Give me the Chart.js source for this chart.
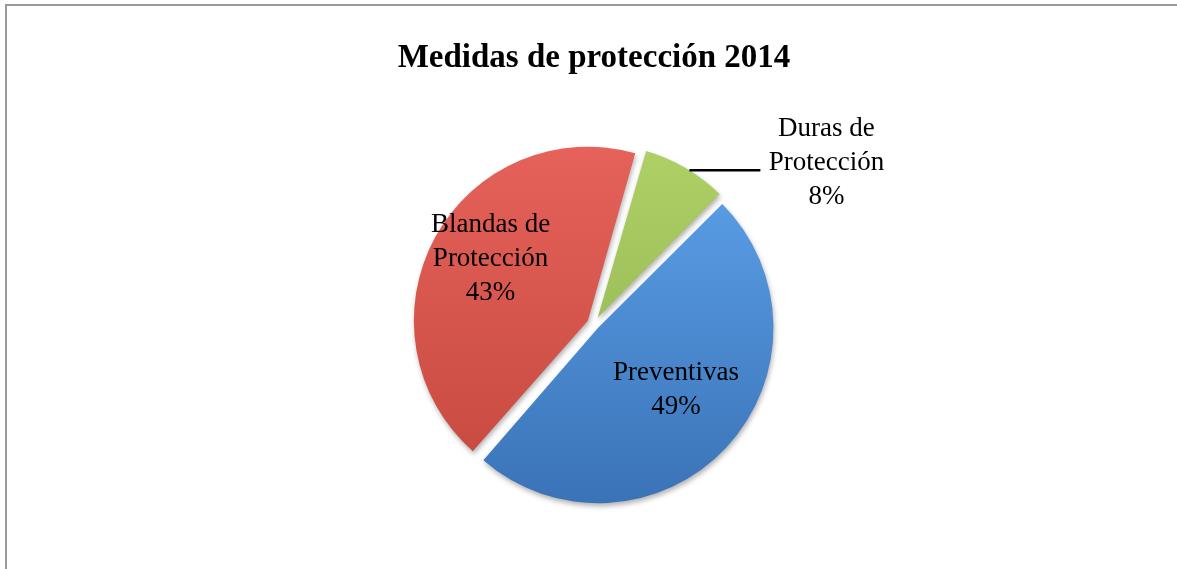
<!DOCTYPE html>
<html>
<head>
<meta charset="utf-8">
<script src="https://cdn.jsdelivr.net/npm/chart.js@4.4.1/dist/chart.umd.min.js"></script>
<style>
  html, body { margin: 0; padding: 0; background: #fff; overflow: hidden; }
  #frame { position: relative; width: 1177px; height: 569px; overflow: hidden; }
  #edge {
    position: absolute; left: 5px; top: 4px; right: -20px; bottom: -20px;
    border-left: 2px solid #9a9a9a; border-top: 2px solid #9a9a9a;
  }
  #pie { position: absolute; left: 0; top: 0; }
</style>
</head>
<body>
<div id="frame">
  <div id="edge"></div>
  <canvas id="pie" width="1177" height="600"></canvas>
</div>
<script>
// Data, in drawing order (clockwise from the top)
const categories = ['Duras de\nProtección', 'Preventivas', 'Blandas de\nProtección'];
const shares = [8, 49, 43];

// Fill colours per slice (light top, dark bottom)
const sliceLight = ['#b0d168', '#5ea3ec', '#e6625a'];
const sliceDark = ['#8caf48', '#3a72b6', '#c4483f'];

// Explode distance per slice (Chart.js scales this down inside the arc)
const sliceOffsets = [29, 22.7, 27.9];

// Where each label goes, relative to its own slice
const labelPlacement = [
  { radius: 1.0, turn: 1.5, leader: 71, gap: 66, lift: -7 },
  { radius: 0.555, turn: -4.7 },
  { radius: 0.654, turn: 3.9 }
];

const FONT_FAMILY = '"Liberation Serif", "Times New Roman", serif';

function sliceFill(context) {
  const { chart, dataIndex } = context;
  const area = chart.chartArea;
  if (!area) return sliceLight[dataIndex];
  const cy = (area.top + area.bottom) / 2;
  const g = chart.ctx.createLinearGradient(0, cy - 180, 0, cy + 180);
  g.addColorStop(0, sliceLight[dataIndex]);
  g.addColorStop(1, sliceDark[dataIndex]);
  return g;
}

// same shift ArcElement.draw applies for options.offset
function explodeShift(arc) {
  const base = (arc.options.offset || 0) / 4;
  const circ = arc.endAngle - arc.startAngle;
  const fix = 1 - Math.sin(Math.min(Math.PI, circ));
  return base * (1 + fix);
}

// ── Plugins ─────────────────────────────────────────────────────────────

const softShadow = {
  id: 'softShadow',
  beforeDatasetDraw(chart) {
    const c = chart.ctx;
    c.save();
    c.shadowColor = 'rgba(0,0,0,0.3)';
    c.shadowBlur = 5;
    c.shadowOffsetX = 1;
    c.shadowOffsetY = 3;
  },
  afterDatasetDraw(chart) {
    chart.ctx.restore();
  }
};

const sliceLabels = {
  id: 'sliceLabels',
  afterDatasetsDraw(chart) {
    const ctx = chart.ctx;
    const meta = chart.getDatasetMeta(0);
    const lineH = 34;
    ctx.save();
    ctx.font = '27px ' + FONT_FAMILY;
    ctx.fillStyle = '#000';
    ctx.textAlign = 'center';
    ctx.textBaseline = 'middle';

    meta.data.forEach((arc, i) => {
      const p = labelPlacement[i];
      const { x, y, startAngle, endAngle, outerRadius } = arc;
      const off = explodeShift(arc);
      const mid = (startAngle + endAngle) / 2;
      const cx = x + Math.cos(mid) * off;
      const cy = y + Math.sin(mid) * off;
      const a = mid + p.turn * Math.PI / 180;
      let px = cx + Math.cos(a) * outerRadius * p.radius;
      let py = cy + Math.sin(a) * outerRadius * p.radius;

      if (p.leader) {
        ctx.beginPath();
        ctx.strokeStyle = '#000';
        ctx.lineWidth = 2.5;
        ctx.moveTo(px, py);
        ctx.lineTo(px + p.leader, py);
        ctx.stroke();
        px += p.leader + p.gap;
        py += p.lift;
      }

      const lines = categories[i].split('\n').concat(shares[i] + '%');
      lines.forEach((t, k) => {
        ctx.fillText(t, px, py + (k - (lines.length - 1) / 2) * lineH);
      });
    });
    ctx.restore();
  }
};

// ── Chart ───────────────────────────────────────────────────────────────

new Chart(document.getElementById('pie').getContext('2d'), {
  type: 'pie',
  data: {
    labels: categories,
    datasets: [{
      data: shares,
      backgroundColor: sliceFill,
      borderWidth: 0,
      offset: sliceOffsets,
      radius: 170,
      rotation: 16
    }]
  },
  options: {
    responsive: false,
    animation: false,
    events: [],
    layout: { padding: { left: 20, right: 9, top: 0, bottom: 27 } },
    plugins: {
      legend: { display: false },
      tooltip: { enabled: false },
      title: {
        display: true,
        text: 'Medidas de protección 2014',
        color: '#000',
        font: { family: FONT_FAMILY, size: 33, weight: 'bold', lineHeight: 1 },
        padding: { top: 42, bottom: 0 }
      }
    }
  },
  plugins: [softShadow, sliceLabels]
});
</script>
</body>
</html>
